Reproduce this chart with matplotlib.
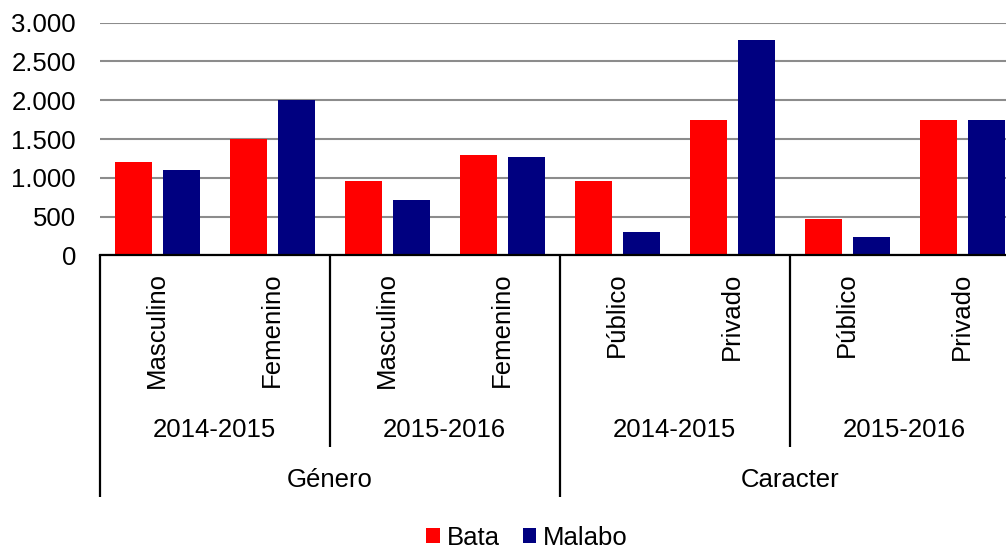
import matplotlib
matplotlib.use("Agg")
import matplotlib.pyplot as plt
import matplotlib.transforms as mtransforms
from matplotlib.ticker import FuncFormatter, MultipleLocator
from matplotlib.patches import Patch
import numpy as np

plt.rcParams['font.family'] = ['Liberation Sans', 'DejaVu Sans']

categories = ["Masculino", "Femenino", "Masculino", "Femenino",
              "Público", "Privado", "Público", "Privado"]
years = ["2014-2015", "2015-2016", "2014-2015", "2015-2016"]
groups = ["Género", "Caracter"]
bata = [1200, 1500, 955, 1300, 955, 1750, 470, 1750]
malabo = [1095, 2000, 718, 1268, 300, 2780, 232, 1750]

W, H = 1006, 549
fig = plt.figure(figsize=(W / 100, H / 100), dpi=100)
left_px, right_px = 99.7, 1019.7
y0_px, y3000_px = 255.3, 22.7
ax = fig.add_axes([left_px / W, 1 - y0_px / H, (right_px - left_px) / W, (y0_px - y3000_px) / H])

x = np.arange(len(categories))
bw = 0.322
ax.bar(x - 0.21, bata, width=bw, color="#FF0000", label="Bata", zorder=3)
ax.bar(x + 0.21, malabo, width=bw, color="#000080", label="Malabo", zorder=3)

ax.set_xlim(-0.5, len(categories) - 0.5)
ax.set_ylim(0, 3000)
ax.yaxis.set_major_locator(MultipleLocator(500))
ax.yaxis.set_major_formatter(FuncFormatter(lambda v, p: f"{int(v):,}".replace(",", ".")))
ax.grid(axis="y", color="#8c8c8c", linewidth=1.5, zorder=0)
ax.set_xticks([])
for s in ["left", "right", "top"]:
    ax.spines[s].set_visible(False)
ax.spines["bottom"].set_linewidth(1.6)
ax.spines["bottom"].set_color("black")
ax.spines["bottom"].set_zorder(4)
ax.tick_params(axis="y", length=0, pad=17, labelsize=18.5)

fs = 18.5
trans = mtransforms.blended_transform_factory(ax.transData, fig.transFigure)

def fy(py):
    return 1 - py / H

# category labels
for i, c in enumerate(categories):
    ax.text(i, fy(272.5), c, rotation=90, ha="center", va="top", fontsize=fs,
            transform=trans, clip_on=False)
# year labels
for j, yv in enumerate(years):
    ax.text(2 * j + 0.5, fy(430), yv, ha="center", va="center", fontsize=fs,
            transform=trans, clip_on=False)
# group labels
for k, g in enumerate(groups):
    ax.text(4 * k + 1.5, fy(480), g, ha="center", va="center", fontsize=fs,
            transform=trans, clip_on=False)

# separators
def vline(xd, ybot_px):
    ax.plot([xd, xd], [fy(y0_px), fy(ybot_px)], color="black", lw=1.6,
            transform=trans, clip_on=False, solid_capstyle="butt")

vline(-0.5, 497)
vline(3.5, 497)
vline(1.5, 447)
vline(5.5, 447)

handles = [Patch(facecolor="#FF0000", label="Bata"), Patch(facecolor="#000080", label="Malabo")]
fig.legend(handles=handles, loc="center", bbox_to_anchor=(527 / W, fy(538)), ncol=2,
           frameon=False, fontsize=fs, handlelength=0.53, handleheight=0.53,
           handletextpad=0.27, columnspacing=0.9, borderaxespad=0, borderpad=0)

fig.savefig("out.png", dpi=100)
